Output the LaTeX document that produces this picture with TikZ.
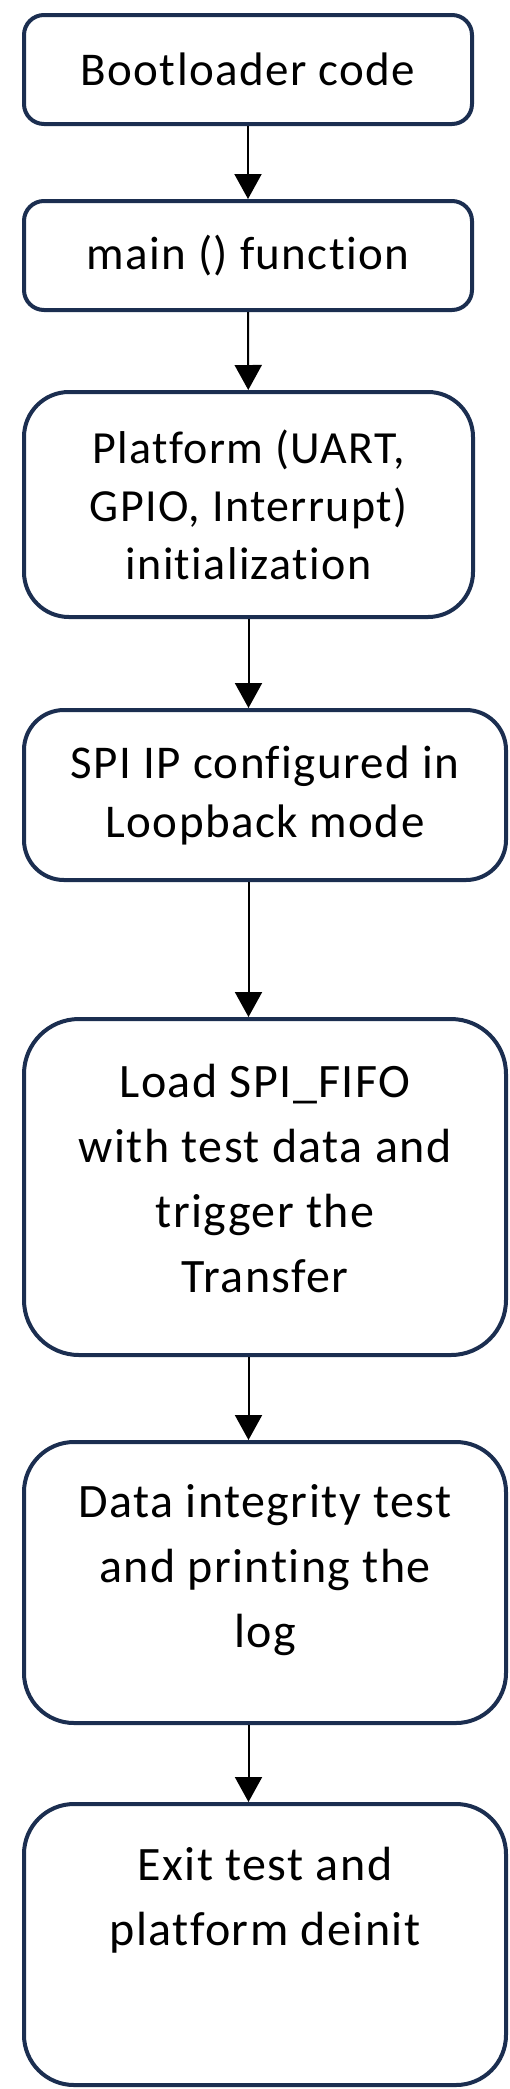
\documentclass[tikz,border=0pt]{standalone}
\usepackage{fontspec}
\setmainfont{Carlito}[LetterSpace=3, Ligatures=NoCommon]
\usetikzlibrary{arrows.meta}
\definecolor{boxnavy}{HTML}{1B2E50}

\begin{document}
\begin{tikzpicture}[x=1pt, y=-1pt,
	stepbox/.style={draw=boxnavy, line width=4pt, rounded corners=#1, align=center, inner sep=0pt},
	stepbox/.default=20pt,
	flow/.style={line width=2pt, -{Triangle[width=27pt, length=25pt]}}]
	\useasboundingbox (0,0) rectangle (510,2089);
	\node[stepbox, minimum width=448pt, minimum height=109pt, font=\fontsize{47}{58}\selectfont] (boot) at (248,69.5) {Bootloader code};
	\node[stepbox, minimum width=448pt, minimum height=109pt, font=\fontsize{47}{58}\selectfont] (mainfn) at (248,255.5) {main () function};
	\node[stepbox=45pt, minimum width=449pt, minimum height=225pt, font=\fontsize{46}{58}\selectfont] (platform) at (248.5,504.5) {Platform (UART,\\GPIO, Interrupt)\\initialization};
	\node[stepbox=40pt, minimum width=482pt, minimum height=170pt, font=\fontsize{47}{59}\selectfont] (spiip) at (265,795) {SPI IP configured in\\Loopback mode};
	\node[stepbox=55pt, minimum width=482pt, minimum height=336pt, font=\fontsize{48}{65}\selectfont, text height=230pt, text depth=20pt] (loadfifo) at (265,1187) {Load SPI\_FIFO\\with test data and\\trigger the\\Transfer};
	\node[stepbox=50pt, minimum width=482pt, minimum height=281pt, font=\fontsize{48}{65}\selectfont, text height=161pt, text depth=32pt] (integrity) at (265,1582.5) {Data integrity test\\and printing the\\log};
	\node[stepbox=50pt, minimum width=482pt, minimum height=281pt, font=\fontsize{48}{65}\selectfont, text height=105pt, text depth=104pt] (deinit) at (265,1944.5) {Exit test and\\platform deinit};
	\draw[flow] (boot) -- (mainfn);
	\draw[flow] (mainfn) -- (platform);
	\draw[flow] (platform) -- (spiip.north -| platform);
	\draw[flow] (platform.south |- spiip.south) -- (platform.south |- loadfifo.north);
	\draw[flow] (platform.south |- loadfifo.south) -- (platform.south |- integrity.north);
	\draw[flow] (platform.south |- integrity.south) -- (platform.south |- deinit.north);
\end{tikzpicture}
\end{document}
